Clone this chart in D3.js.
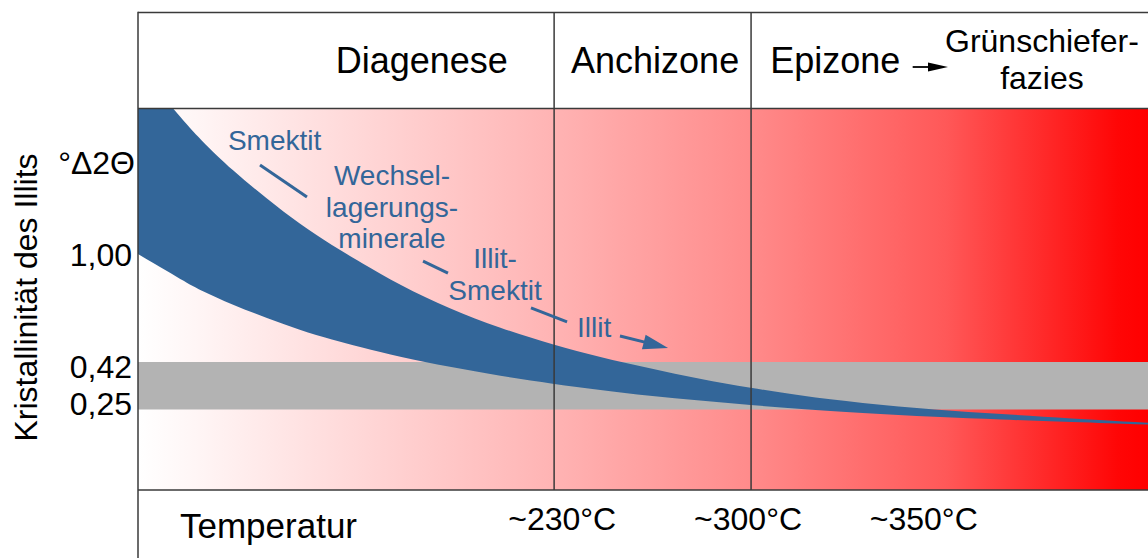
<!DOCTYPE html>
<html><head><meta charset="utf-8">
<script src="https://cdn.jsdelivr.net/npm/d3@7"></script>
<style>html,body{margin:0;padding:0;background:#fff;} svg{display:block;font-family:"Liberation Sans",Arial,Helvetica,sans-serif;}</style>
</head><body><svg id="c" width="1148" height="558"></svg>
<script>
// ---- data (x: relative metamorphic grade 0..100, y: Kristallinität °Δ2Θ) ----
const gradeX      = [0, 4.2, 6.1, 9.4, 12.8, 16.0, 19.3, 22.0, 25.9, 30.9, 35.8, 41.2, 45.7, 50.7, 55.6, 60.7, 65.5, 71.5, 79.1, 85.4, 92.3, 100];
const upperKI     = [2.014, 1.748, 1.629, 1.455, 1.304, 1.168, 1.049, 0.962, 0.837, 0.707, 0.604, 0.512, 0.447, 0.397, 0.359, 0.327, 0.300, 0.273, 0.248, 0.234, 0.218, 0.203];
const lowerKI     = [1.005, 0.870, 0.810, 0.729, 0.658, 0.593, 0.539, 0.501, 0.447, 0.402, 0.370, 0.341, 0.320, 0.298, 0.282, 0.266, 0.252, 0.237, 0.223, 0.214, 0.205, 0.196];
const anchiBand   = [0.25, 0.42];
const zoneBounds  = [41.2, 60.7];
const zoneLabels  = ["Diagenese", "Anchizone", "Epizone"];
const zoneLabelX  = [28.1, 51.2, 62.6];
const faziesLines = ["Grünschiefer-", "fazies"];
const faziesX     = 89.5;
const yTickValues = [1.00, 0.42, 0.25];
const yTickLabels = ["1,00", "0,42", "0,25"];
const yUnitLabel  = "°Δ2Θ";
const yTitle      = "Kristallinität des Illits";
const xTitle      = "Temperatur";
const tempLabels  = ["~230°C", "~300°C", "~350°C"];
const tempLabelX  = [42.0, 60.4, 77.8];
const mineralLabels = [
  {lines: ["Smektit"], x: 8.9, y: [1.569], anchor: "start"},
  {lines: ["Wechsel-", "lagerungs-", "minerale"], x: 25.15, y: [1.379, 1.206, 1.038], anchor: "middle"},
  {lines: ["Illit-", "Smektit"], x: 35.35, y: [0.929, 0.756], anchor: "middle"},
  {lines: ["Illit"], x: 43.47, y: [0.555], anchor: "start"}
];
const connectors = [
  [[12.08, 1.488], [16.73, 1.314]],
  [[28.22, 0.967], [30.69, 0.902]],
  [[38.91, 0.713], [42.48, 0.637]]
];
const trendArrow = [[47.72, 0.561], [52.48, 0.496]];

// ---- layout ----
const W = 1148, H = 558;
const L = 138, R = 1148, TOP = 12.5, HEAD = 108.5, BOT = 490;
const blue = "#336699", lineCol = "#3a3a3a";

const svg = d3.select("#c");
const x = d3.scaleLinear().domain([0, 100]).range([L, R]);
const y = d3.scaleLinear().domain([1.0, 0.42, 0.25]).range([255, 362, 409.5]);

// gradient background
const defs = svg.append("defs");
const grad = defs.append("linearGradient").attr("id", "bg")
  .attr("gradientUnits", "userSpaceOnUse").attr("x1", L).attr("x2", R).attr("y1", 0).attr("y2", 0);
[[0, "#ffffff"], [0.05, "#fff7f7"], [0.41, "#ffb4b4"], [0.61, "#ff8a8a"], [0.80, "#ff5858"], [0.97, "#ff0606"], [1, "#ff0000"]]
  .forEach(([o, c]) => grad.append("stop").attr("offset", o).attr("stop-color", c));
defs.append("clipPath").attr("id", "plotclip").append("rect")
  .attr("x", L).attr("y", HEAD).attr("width", R - L).attr("height", BOT - HEAD);

svg.append("rect").attr("x", L).attr("y", HEAD).attr("width", R - L).attr("height", BOT - HEAD).attr("fill", "url(#bg)");

// anchizone crystallinity band
svg.append("rect").attr("x", L).attr("width", R - L)
  .attr("y", y(anchiBand[1])).attr("height", y(anchiBand[0]) - y(anchiBand[1]))
  .attr("fill", "#b3b3b3");

// blue band
const pts = gradeX.map((g, i) => ({g, u: upperKI[i], l: lowerKI[i]}));
svg.append("path").datum(pts).attr("clip-path", "url(#plotclip)")
  .attr("fill", blue)
  .attr("d", d3.area().x(d => x(d.g)).y0(d => y(d.l)).y1(d => y(d.u)).curve(d3.curveBasis));

// frame lines
const g = svg.append("g").attr("stroke", lineCol).attr("stroke-width", 1.5).attr("fill", "none");
g.append("line").attr("x1", L).attr("x2", L).attr("y1", TOP - 0.75).attr("y2", H);
g.append("line").attr("x1", L).attr("x2", R).attr("y1", TOP).attr("y2", TOP);
g.append("line").attr("x1", L).attr("x2", R).attr("y1", HEAD).attr("y2", HEAD);
g.append("line").attr("x1", L).attr("x2", R).attr("y1", BOT).attr("y2", BOT);
zoneBounds.forEach(b => g.append("line").attr("x1", x(b)).attr("x2", x(b)).attr("y1", TOP).attr("y2", BOT));

// header labels
zoneLabels.forEach((t, i) => svg.append("text").attr("x", x(zoneLabelX[i])).attr("y", 73)
  .attr("text-anchor", i === 2 ? "start" : "middle").attr("font-size", 36).attr("fill", "#000").text(t));
faziesLines.forEach((t, i) => svg.append("text").attr("x", x(faziesX)).attr("y", 52 + i * 37)
  .attr("text-anchor", "middle").attr("font-size", 32).attr("fill", "#000").text(t));
// small black arrow
{
  const ax0 = x(76.7), ax1 = x(80.2), ay = 67;
  svg.append("line").attr("x1", ax0).attr("x2", ax1 - 16).attr("y1", ay).attr("y2", ay).attr("stroke", "#000").attr("stroke-width", 1.8);
  svg.append("path").attr("d", `M${ax1},${ay} L${ax1 - 20},${ay - 4.5} L${ax1 - 20},${ay + 4.5} Z`).attr("fill", "#000");
}

// y tick labels
yTickValues.forEach((v, i) => svg.append("text").attr("x", 132).attr("y", y(v) + (i === 0 ? 11 : i === 1 ? 16 : 5))
  .attr("text-anchor", "end").attr("font-size", 32).attr("fill", "#000").text(yTickLabels[i]));
svg.append("text").attr("x", 135).attr("y", 174).attr("text-anchor", "end").attr("font-size", 32).attr("fill", "#000").text(yUnitLabel);
svg.append("text").attr("transform", "translate(37,297.5) rotate(-90)").attr("text-anchor", "middle")
  .attr("font-size", 32).attr("fill", "#000").text(yTitle);

// x labels
svg.append("text").attr("x", 180).attr("y", 538).attr("font-size", 35).attr("fill", "#000").text(xTitle);
tempLabels.forEach((t, i) => svg.append("text").attr("x", x(tempLabelX[i])).attr("y", 530)
  .attr("text-anchor", "middle").attr("font-size", 32).attr("fill", "#000").text(t));

// mineral annotations
mineralLabels.forEach(m => m.lines.forEach((t, i) => svg.append("text")
  .attr("x", x(m.x)).attr("y", y(m.y[i])).attr("text-anchor", m.anchor)
  .attr("font-size", 28).attr("fill", blue).text(t)));
connectors.forEach(c => svg.append("line")
  .attr("x1", x(c[0][0])).attr("y1", y(c[0][1])).attr("x2", x(c[1][0])).attr("y2", y(c[1][1]))
  .attr("stroke", blue).attr("stroke-width", 3));
{
  const x0 = x(trendArrow[0][0]), y0 = y(trendArrow[0][1]), x1 = x(trendArrow[1][0]), y1 = y(trendArrow[1][1]);
  const ang = Math.atan2(y1 - y0, x1 - x0), hl = 25, hw = 7.5;
  const bx = x1 - hl * Math.cos(ang), by = y1 - hl * Math.sin(ang);
  svg.append("line").attr("x1", x0).attr("y1", y0).attr("x2", bx + 2 * Math.cos(ang)).attr("y2", by + 2 * Math.sin(ang))
    .attr("stroke", blue).attr("stroke-width", 3);
  const px = -Math.sin(ang) * hw, py = Math.cos(ang) * hw;
  svg.append("path").attr("d", `M${x1},${y1} L${bx + px},${by + py} L${bx - px},${by - py} Z`).attr("fill", blue);
}
</script></body></html>
